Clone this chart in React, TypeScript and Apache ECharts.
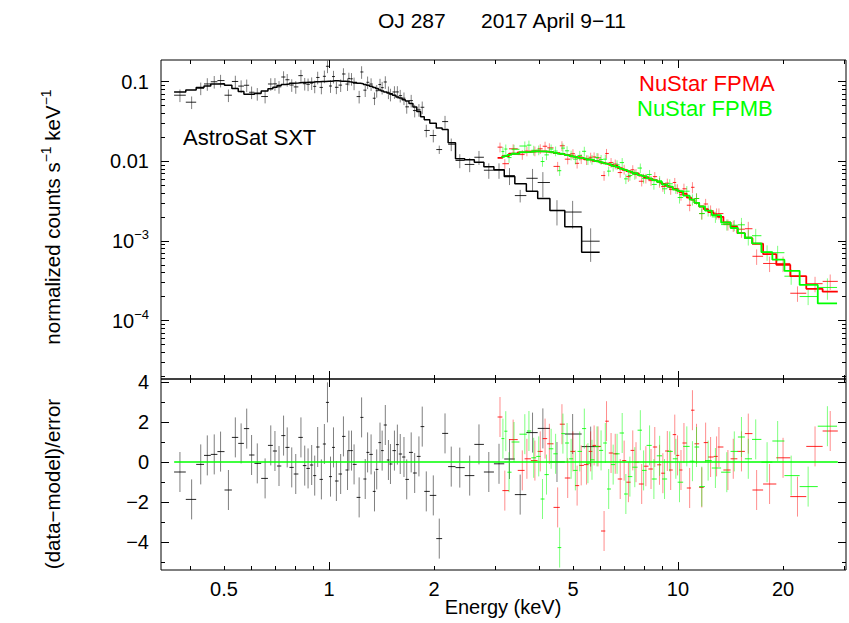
import { useEffect, useRef } from 'react';
import * as echarts from 'echarts';

// ---------------- data ----------------
// AstroSat SXT: bin centre energies (keV), model (counts/s/keV), data, residuals, relative errors
const sxtEnergy = [0.374,0.404,0.429,0.448,0.469,0.489,0.515,0.539,0.56,0.581,0.60,0.623,0.656,0.681,0.70,0.719,0.741,0.759,0.782,0.803,0.831,0.852,0.871,0.892,0.910,0.928,0.951,0.97,0.99,1.01,1.03,1.05,1.08,1.10,1.13,1.14,1.16,1.18,1.22,1.24,1.27,1.29,1.32,1.35,1.37,1.40,1.42,1.45,1.48,1.50,1.54,1.57,1.60,1.64,1.67,1.72,1.76,1.81,1.85,1.90,1.99,2.07,2.15,2.24,2.37,2.53,2.69,2.87,3.07,3.29,3.53,3.83,4.10,4.50,4.99,5.62];
const sxtModel = [0.074,0.078,0.084,0.088,0.093,0.094,0.090,0.082,0.075,0.069,0.069,0.071,0.076,0.081,0.085,0.089,0.092,0.093,0.095,0.096,0.097,0.097,0.098,0.098,0.099,0.099,0.100,0.100,0.101,0.101,0.102,0.102,0.101,0.101,0.100,0.099,0.098,0.097,0.095,0.094,0.092,0.090,0.087,0.084,0.082,0.078,0.076,0.074,0.072,0.070,0.067,0.064,0.062,0.059,0.057,0.053,0.048,0.042,0.036,0.033,0.030,0.026,0.025,0.017,0.0107,0.0104,0.0097,0.0085,0.0078,0.0064,0.0052,0.0042,0.0034,0.0024,0.0015,0.00072];
const sxtFlux = [0.0673,0.055,0.0822,0.0932,0.0993,0.1028,0.0673,0.1001,0.0876,0.0897,0.0733,0.0701,0.0648,0.0931,0.0934,0.0858,0.1139,0.1052,0.0904,0.0856,0.1185,0.0939,0.0923,0.0954,0.0869,0.1124,0.0843,0.1162,0.1552,0.0878,0.1154,0.0846,0.0901,0.1243,0.0928,0.1092,0.1081,0.0949,0.0647,0.1317,0.0779,0.0978,0.0929,0.0617,0.0765,0.0916,0.0838,0.0986,0.0733,0.0687,0.0739,0.0740,0.0665,0.0617,0.0481,0.0576,0.0432,0.0441,0.0475,0.0243,0.0210,0.014,0.0314,0.0163,0.0102,0.0091,0.0112,0.0077,0.0077,0.0066,0.0037,0.0061,0.0054,0.0024,0.0023,0.00099];
const sxtRelErr = [0.18,0.18,0.18,0.18,0.18,0.18,0.18,0.18,0.18,0.18,0.18,0.18,0.18,0.18,0.18,0.18,0.18,0.18,0.18,0.18,0.18,0.18,0.18,0.18,0.18,0.18,0.18,0.18,0.18,0.18,0.18,0.18,0.18,0.18,0.18,0.18,0.18,0.18,0.18,0.18,0.18,0.18,0.18,0.18,0.18,0.18,0.18,0.18,0.18,0.18,0.18,0.18,0.18,0.18,0.18,0.18,0.18,0.18,0.18,0.18,0.18,0.12,0.18,0.18,0.2,0.2,0.2,0.22,0.22,0.24,0.18,0.31,0.35,0.35,0.38,0.45];
const sxtResid = [-0.5,-1.87,-0.12,0.33,0.38,0.52,-1.4,1.23,0.93,1.67,0.35,-0.07,-0.82,0.83,0.55,-0.2,1.32,0.73,-0.27,-0.6,1.23,-0.18,-0.32,-0.15,-0.68,0.75,-0.87,0.9,2.98,-0.73,0.73,-0.95,-0.6,1.28,-0.4,0.57,0.57,-0.12,-1.77,2.23,-0.85,0.48,0.38,-1.47,-0.37,0.97,0.57,1.85,0.1,-0.1,0.57,0.87,0.4,0.25,-0.87,0.48,-0.55,0.28,1.77,-1.47,-1.67,-3.83,1.43,-0.23,-0.28,-0.68,0.88,-0.5,-0.09,0.15,-1.63,1.47,1.68,0.0,1.4,0.77];

// NuSTAR FPMA
const fpmaEnergy = [3.09,3.19,3.37,3.58,3.69,3.89,4.03,4.16,4.28,4.52,4.65,4.83,5.00,5.14,5.28,5.47,5.62,5.75,5.90,6.14,6.24,6.43,6.61,6.83,7.01,7.21,7.42,7.58,7.87,8.09,8.37,8.58,8.85,9.05,9.32,9.53,9.79,9.97,10.2,10.4,10.8,11.0,11.3,11.7,12.0,12.4,12.9,13.1,13.9,14.4,15.2,15.9,16.8,18.3,20.0,22.0,24.7,27.3];
const fpmaModel = [0.0110,0.0116,0.0124,0.0129,0.0131,0.0133,0.0133,0.0132,0.0130,0.0126,0.0123,0.0119,0.0115,0.0112,0.0110,0.0106,0.0104,0.0101,0.0099,0.0095,0.0093,0.0090,0.0087,0.0082,0.0078,0.0075,0.0072,0.0070,0.0066,0.0063,0.0060,0.0058,0.0055,0.0052,0.0049,0.0047,0.0045,0.0043,0.0041,0.0039,0.0035,0.0033,0.0030,0.0027,0.0025,0.0023,0.0021,0.0020,0.0017,0.0015,0.00125,0.00108,0.00092,0.00068,0.00050,0.00036,0.00025,0.00023];
const fpmaFlux = [0.0150,0.0093,0.0143,0.0121,0.0134,0.0134,0.0143,0.0154,0.0147,0.0086,0.0156,0.0106,0.0124,0.0094,0.0107,0.0104,0.0112,0.0113,0.0110,0.0066,0.0125,0.0096,0.0092,0.0072,0.0079,0.0064,0.0078,0.0070,0.0056,0.0061,0.0057,0.0064,0.0054,0.0048,0.0053,0.0044,0.0054,0.0045,0.0038,0.0045,0.0028,0.0047,0.0034,0.0022,0.0029,0.0024,0.0022,0.0022,0.0016,0.00154,0.0014,0.00142,0.00064,0.00052,0.00052,0.00022,0.00029,0.00031];
const fpmaRelErr = [0.14,0.14,0.14,0.14,0.14,0.14,0.14,0.14,0.14,0.14,0.14,0.14,0.14,0.14,0.14,0.14,0.14,0.14,0.14,0.14,0.14,0.14,0.14,0.14,0.14,0.14,0.14,0.14,0.14,0.14,0.14,0.14,0.14,0.14,0.14,0.14,0.14,0.14,0.16,0.16,0.16,0.16,0.16,0.16,0.16,0.16,0.16,0.16,0.16,0.16,0.22,0.22,0.22,0.22,0.22,0.22,0.22,0.22];
const fpmaResid = [2.25,-1.43,1.12,-0.42,0.16,0.07,0.53,1.17,0.91,-2.27,1.89,-0.8,0.53,-1.18,-0.17,-0.13,0.53,0.83,0.78,-3.45,2.04,0.45,0.41,-0.85,0.07,-1.01,0.58,-0.01,-1.1,-0.21,-0.35,0.75,-0.14,-0.56,0.55,-0.4,1.37,0.33,-0.4,0.95,-1.3,2.59,0.91,-1.27,0.97,0.25,0.28,0.75,-0.4,0.16,0.53,1.42,-1.4,-1.1,0.21,-1.73,0.78,1.55];

// NuSTAR FPMB
const fpmbEnergy = [3.15,3.21,3.28,3.39,3.64,3.74,3.86,3.99,4.09,4.20,4.33,4.46,4.58,4.68,4.81,4.94,5.08,5.23,5.39,5.52,5.67,5.86,6.02,6.19,6.33,6.52,6.69,6.92,7.09,7.28,7.52,7.80,7.97,8.29,8.53,8.86,9.15,9.47,9.86,10.1,10.6,11.0,11.3,11.7,12.2,12.8,13.8,14.5,15.2,15.9,16.7,18.0,19.3,21.1,23.6,26.8];
const fpmbModel = [0.0113,0.0117,0.0120,0.0124,0.0130,0.0131,0.0133,0.0133,0.0133,0.0132,0.0130,0.0127,0.0124,0.0122,0.0119,0.0116,0.0113,0.0110,0.0108,0.0105,0.0103,0.0100,0.0097,0.0094,0.0092,0.0088,0.0085,0.0080,0.0077,0.0074,0.0071,0.0067,0.0065,0.0061,0.0058,0.0055,0.0051,0.0048,0.0044,0.0042,0.0037,0.0033,0.0030,0.0027,0.0024,0.0021,0.0017,0.00145,0.00125,0.00108,0.00093,0.00072,0.00058,0.00042,0.00028,0.000164];
const fpmbFlux = [0.0132,0.0142,0.0111,0.0141,0.0155,0.0159,0.0137,0.0138,0.0099,0.0120,0.0142,0.0134,0.0076,0.0146,0.0135,0.0119,0.0106,0.0118,0.0133,0.0104,0.0105,0.0111,0.0105,0.0106,0.0075,0.0086,0.0090,0.0096,0.0060,0.0066,0.0068,0.0082,0.0061,0.0068,0.0051,0.0057,0.0045,0.0052,0.0045,0.0035,0.0042,0.0033,0.0034,0.0022,0.0024,0.0020,0.0016,0.00157,0.00159,0.00112,0.00116,0.00072,0.00071,0.00036,0.00020,0.00026];
const fpmbRelErr = [0.14,0.14,0.14,0.14,0.14,0.14,0.14,0.14,0.14,0.14,0.14,0.14,0.14,0.14,0.14,0.14,0.14,0.14,0.14,0.14,0.14,0.14,0.14,0.14,0.14,0.14,0.14,0.14,0.14,0.14,0.14,0.14,0.14,0.14,0.14,0.14,0.14,0.14,0.14,0.16,0.16,0.16,0.16,0.16,0.16,0.16,0.16,0.16,0.22,0.22,0.22,0.22,0.22,0.22,0.22,0.3];
const fpmbResid = [1.17,1.54,-0.51,1.0,1.39,1.55,0.21,0.28,-1.85,-0.63,0.66,0.41,-4.28,1.42,0.95,0.16,-0.42,0.53,1.67,-0.06,0.11,0.78,0.58,0.95,-1.35,-0.13,0.41,1.45,-1.6,-0.73,-0.26,1.59,-0.42,0.83,-0.85,0.31,-0.85,0.53,0.16,-1.01,0.78,0.04,0.75,-1.23,0.07,-0.3,-0.51,0.53,1.25,0.16,1.13,-0.01,1.05,-0.68,-1.23,1.79];

// axes
const xLabelEnergies = [0.5, 1, 2, 5, 10, 20];
const xMajorEnergies = [1, 10];
const xMinorEnergies = [0.4, 0.5, 0.6, 0.7, 0.8, 0.9, 2, 3, 4, 5, 6, 7, 8, 9, 20, 30];
const yFluxLabelExps = [-4, -3, -2, -1];
const yResLabels = [-4, -2, 0, 2, 4];
const yResMinor = [-5, -3, -1, 1, 3];
const zeroLineRange = [0.36, 28.7];

const FONT = '"Liberation Sans", Arial, Helvetica, sans-serif';
const X_MIN = -0.4814, X_MAX = 1.4814;
const YT_MIN = -4.734, YT_MAX = -0.730;
const YR_MIN = -5.4, YR_MAX = 4.15;

const lg = Math.log10;

function binEdges(e: number[]) {
  const l = e.map(lg);
  const n = l.length;
  return l.map((v, i) => {
    const lo = i > 0 ? (l[i - 1] + v) / 2 : v - (l[1] - v) / 2;
    const hi = i < n - 1 ? (v + l[i + 1]) / 2 : v + (v - l[n - 2]) / 2;
    return [lo, hi];
  });
}

function fluxRows(e: number[], f: number[], err: number[]) {
  const ed = binEdges(e);
  return e.map((en, i) => [ed[i][0], ed[i][1], lg(en), lg(f[i] * (1 - err[i])), lg(f[i] * (1 + err[i])), lg(f[i])]);
}
function residRows(e: number[], r: number[]) {
  const ed = binEdges(e);
  return e.map((en, i) => [ed[i][0], ed[i][1], lg(en), r[i] - 1, r[i] + 1, r[i]]);
}
function stepRows(e: number[], m: number[]) {
  const ed = binEdges(e);
  const out: number[][] = [];
  e.forEach((_, i) => {
    out.push([ed[i][0], lg(m[i])]);
    out.push([ed[i][1], lg(m[i])]);
  });
  return out;
}

function crossSeries(data: number[][], color: string, xi: number, yi: number, hOp: number, vOp: number) {
  return {
    type: 'custom',
    xAxisIndex: xi,
    yAxisIndex: yi,
    clip: true,
    data,
    encode: { x: [0, 1, 2], y: [3, 4, 5] },
    renderItem: (_p: any, api: any) => {
      const yc = api.value(5), xc = api.value(2);
      const a = api.coord([api.value(0), yc]);
      const b = api.coord([api.value(1), yc]);
      const c = api.coord([xc, api.value(3)]);
      const d = api.coord([xc, api.value(4)]);
      return {
        type: 'group',
        children: [
          { type: 'line', shape: { x1: a[0], y1: a[1], x2: b[0], y2: b[1] }, style: { stroke: color, lineWidth: 1, opacity: hOp } },
          { type: 'line', shape: { x1: c[0], y1: c[1], x2: d[0], y2: d[1] }, style: { stroke: color, lineWidth: 1, opacity: vOp } },
        ],
      };
    },
  };
}

function stepSeries(data: number[][], color: string, width: number) {
  return {
    type: 'line', xAxisIndex: 0, yAxisIndex: 0, data, showSymbol: false, symbol: 'none',
    lineStyle: { color, width }, clip: true, silent: true,
  };
}

function xAxisDef(grid: number, position: string, ticks: number[], len: number, labels: boolean) {
  return {
    type: 'value', gridIndex: grid, position, min: X_MIN, max: X_MAX,
    axisLine: { show: false, onZero: false },
    splitLine: { show: false },
    axisTick: { show: true, inside: true, length: len, customValues: ticks.map(lg), lineStyle: { color: '#000', width: 1 } },
    axisLabel: labels
      ? {
          show: true, customValues: xLabelEnergies.map(lg), margin: 9, color: '#000', fontSize: 20, fontFamily: FONT,
          formatter: (v: number) => {
            const e = Math.pow(10, v);
            return e < 1 ? e.toFixed(1) : String(Math.round(e));
          },
        }
      : { show: false },
  };
}

function yAxisDef(grid: number, position: string, min: number, max: number, ticks: number[], len: number, label: any) {
  return {
    type: 'value', gridIndex: grid, position, min, max,
    axisLine: { show: false, onZero: false },
    splitLine: { show: false },
    axisTick: { show: true, inside: true, length: len, customValues: ticks, lineStyle: { color: '#000', width: 1 } },
    axisLabel: label || { show: false },
  };
}

const fluxMinorTicks: number[] = [];
for (let n = -5; n <= -1; n++) {
  for (let k = 2; k <= 9; k++) {
    const v = n + lg(k);
    if (v > YT_MIN && v < YT_MAX) fluxMinorTicks.push(v);
  }
}

export default function App() {
  const ref = useRef<HTMLDivElement>(null);
  useEffect(() => {
    if (!ref.current) return;
    const chart = echarts.init(ref.current, undefined, { renderer: 'svg' });
    const xMinor = xMinorEnergies;
    const xMajor = xMajorEnergies;
    const fluxLabel = {
      show: true, customValues: yFluxLabelExps, margin: 12, color: '#000', fontSize: 20, fontFamily: FONT, lineHeight: 26,
      formatter: (v: number) => {
        const n = Math.round(v);
        if (n === -1) return '0.1';
        if (n === -2) return '0.01';
        return '10{sup|\u2212' + (-n) + '}';
      },
      rich: { sup: { fontSize: 13, fontFamily: FONT, verticalAlign: 'top', lineHeight: 13, color: '#000' } },
    };
    const resLabel = {
      show: true, customValues: yResLabels, margin: 12, color: '#000', fontSize: 20, fontFamily: FONT,
      formatter: (v: number) => (v < 0 ? '\u2212' + Math.abs(v) : String(v)),
    };
    const option: any = {
      animation: false,
      backgroundColor: '#fff',
      grid: [
        { left: 161, top: 60, width: 685, height: 319, show: true, borderColor: '#000', borderWidth: 1, backgroundColor: 'transparent' },
        { left: 161, top: 379, width: 685, height: 191, show: true, borderColor: '#000', borderWidth: 1, backgroundColor: 'transparent' },
      ],
      xAxis: [
        xAxisDef(0, 'bottom', xMinor, 4, false),
        xAxisDef(0, 'bottom', xMajor, 8, false),
        xAxisDef(0, 'top', xMinor, 4, false),
        xAxisDef(0, 'top', xMajor, 8, false),
        xAxisDef(1, 'bottom', xMinor, 4, true),
        xAxisDef(1, 'bottom', xMajor, 8, false),
        xAxisDef(1, 'top', xMinor, 4, false),
        xAxisDef(1, 'top', xMajor, 8, false),
      ],
      yAxis: [
        yAxisDef(0, 'left', YT_MIN, YT_MAX, fluxMinorTicks, 4, null),
        yAxisDef(0, 'left', YT_MIN, YT_MAX, yFluxLabelExps, 8, fluxLabel),
        yAxisDef(0, 'right', YT_MIN, YT_MAX, fluxMinorTicks, 4, null),
        yAxisDef(0, 'right', YT_MIN, YT_MAX, yFluxLabelExps, 8, null),
        yAxisDef(1, 'left', YR_MIN, YR_MAX, yResMinor, 4, null),
        yAxisDef(1, 'left', YR_MIN, YR_MAX, yResLabels, 8, resLabel),
        yAxisDef(1, 'right', YR_MIN, YR_MAX, yResMinor, 4, null),
        yAxisDef(1, 'right', YR_MIN, YR_MAX, yResLabels, 8, null),
      ],
      series: [
        crossSeries(fluxRows(sxtEnergy, sxtFlux, sxtRelErr), '#000000', 0, 0, 0.85, 0.5),
        stepSeries(stepRows(sxtEnergy, sxtModel), '#000000', 1.5),
        crossSeries(fluxRows(fpmaEnergy, fpmaFlux, fpmaRelErr), '#ff0000', 0, 0, 0.85, 0.45),
        stepSeries(stepRows(fpmaEnergy, fpmaModel), '#ff0000', 1.8),
        crossSeries(fluxRows(fpmbEnergy, fpmbFlux, fpmbRelErr), '#00ff00', 0, 0, 0.85, 0.5),
        stepSeries(stepRows(fpmbEnergy, fpmbModel), '#00ff00', 1.8),
        crossSeries(residRows(sxtEnergy, sxtResid), '#000000', 4, 4, 0.85, 0.5),
        crossSeries(residRows(fpmaEnergy, fpmaResid), '#ff0000', 4, 4, 0.85, 0.45),
        crossSeries(residRows(fpmbEnergy, fpmbResid), '#00ff00', 4, 4, 0.85, 0.5),
        {
          type: 'line', xAxisIndex: 4, yAxisIndex: 4, showSymbol: false, symbol: 'none', silent: true,
          data: [[lg(zeroLineRange[0]), 0], [lg(zeroLineRange[1]), 0]],
          lineStyle: { color: '#00ff00', width: 1.5 },
        },
      ],
      graphic: [
        { type: 'text', x: 378, y: 20, style: { text: 'OJ 287', fontSize: 21, fontFamily: FONT, fill: '#000', align: 'left', verticalAlign: 'middle' } },
        { type: 'text', x: 481, y: 20, style: { text: '2017 April 9\u221211', fontSize: 21, fontFamily: FONT, fill: '#000', align: 'left', verticalAlign: 'middle' } },
        { type: 'text', x: 183, y: 137, style: { text: 'AstroSat SXT', fontSize: 22, fontFamily: FONT, fill: '#000', align: 'left', verticalAlign: 'middle' } },
        { type: 'text', x: 639, y: 83, style: { text: 'NuStar FPMA', fontSize: 22, fontFamily: FONT, fill: '#ff0000', align: 'left', verticalAlign: 'middle' } },
        { type: 'text', x: 637, y: 108, style: { text: 'NuStar FPMB', fontSize: 22, fontFamily: FONT, fill: '#00ff00', align: 'left', verticalAlign: 'middle' } },
        { type: 'text', x: 503, y: 607, style: { text: 'Energy (keV)', fontSize: 20, fontFamily: FONT, fill: '#000', align: 'center', verticalAlign: 'middle' } },
        {
          type: 'text', x: 52, y: 217, rotation: Math.PI / 2,
          style: {
            text: 'normalized counts s{sup|\u22121} keV{sup|\u22121}', fontSize: 20.5, fontFamily: FONT, fill: '#000', lineHeight: 27,
            align: 'center', verticalAlign: 'middle',
            rich: { sup: { fontSize: 14, fontFamily: FONT, fill: '#000', verticalAlign: 'top', lineHeight: 14 } },
          },
        },
        {
          type: 'text', x: 52, y: 484, rotation: Math.PI / 2,
          style: { text: '(data\u2212model)/error', fontSize: 20.5, fontFamily: FONT, fill: '#000', align: 'center', verticalAlign: 'middle' },
        },
      ],
    };
    chart.setOption(option);
    return () => chart.dispose();
  }, []);
  return <div ref={ref} style={{ position: 'fixed', left: 0, top: 0, width: 849, height: 623, background: '#fff' }} />;
}
